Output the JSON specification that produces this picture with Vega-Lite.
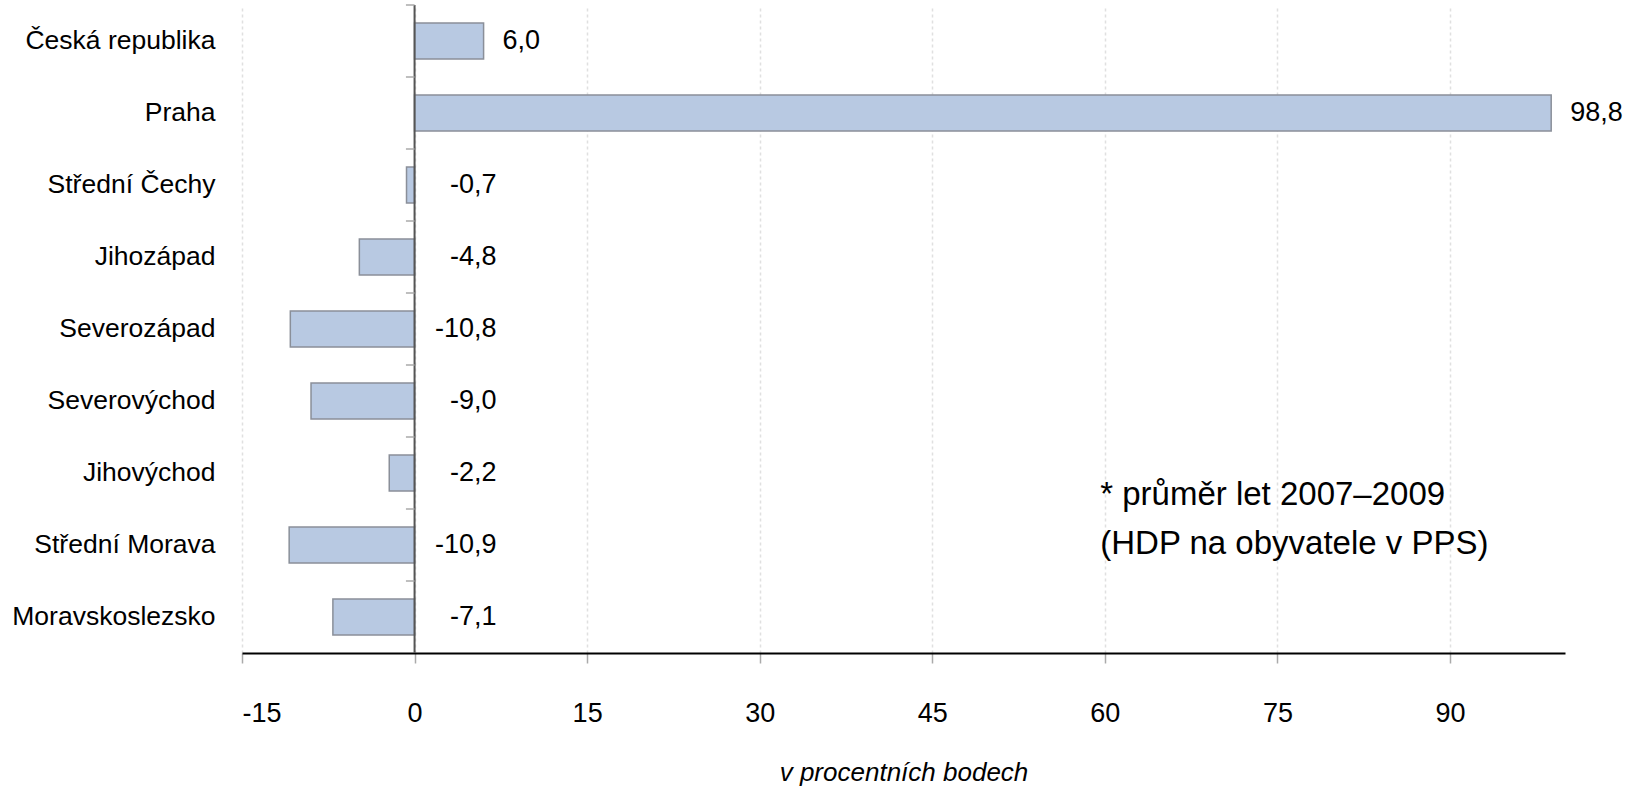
{
  "$schema": "https://vega.github.io/schema/vega-lite/v6.json",
  "width": 1323,
  "height": 648,
  "autosize": {"type": "none"},
  "padding": {"left": 242, "top": 5, "right": 74, "bottom": 139},
  "background": "white",
  "config": {
    "view": {"stroke": null},
    "font": "Liberation Sans",
    "text": {"font": "Liberation Sans"}
  },
  "datasets": {
    "regions": [
      {"region": "Česká republika", "value": 6.0, "label": "6,0"},
      {"region": "Praha", "value": 98.8, "label": "98,8"},
      {"region": "Střední Čechy", "value": -0.7, "label": "-0,7"},
      {"region": "Jihozápad", "value": -4.8, "label": "-4,8"},
      {"region": "Severozápad", "value": -10.8, "label": "-10,8"},
      {"region": "Severovýchod", "value": -9.0, "label": "-9,0"},
      {"region": "Jihovýchod", "value": -2.2, "label": "-2,2"},
      {"region": "Střední Morava", "value": -10.9, "label": "-10,9"},
      {"region": "Moravskoslezsko", "value": -7.1, "label": "-7,1"}
    ],
    "note": [{"note": "* průměr let 2007–2009"}]
  },
  "data": {"name": "regions"},
  "layer": [
    {
      "mark": {"type": "bar", "fill": "#b8c9e2", "stroke": "#8a8f99", "strokeWidth": 1.5},
      "encoding": {
        "y": {
          "field": "region",
          "type": "nominal",
          "sort": null,
          "scale": {"paddingInner": 0.5, "paddingOuter": 0.25},
          "axis": {
            "title": null,
            "domain": false,
            "ticks": false,
            "labelFontSize": 26.5,
            "labelColor": "#000",
            "labelFont": "Liberation Sans",
            "labelPadding": 27,
            "labelLimit": 400
          }
        },
        "x": {
          "field": "value",
          "type": "quantitative",
          "scale": {"domain": [-15, 100], "nice": false, "zero": false},
          "axis": {
            "values": [-15, 0, 15, 30, 45, 60, 75, 90],
            "labelExpr": "'' + datum.value",
            "title": "v procentních bodech",
            "titleFont": "Liberation Sans",
            "titleFontStyle": "italic",
            "titleFontWeight": "normal",
            "titleFontSize": 26,
            "titleColor": "#000",
            "titlePadding": 33,
            "labelFontSize": 27,
            "labelColor": "#000",
            "labelFont": "Liberation Sans",
            "labelPadding": 37,
            "domainColor": "#000",
            "domainWidth": 2,
            "tickColor": "#aaa",
            "tickWidth": 1.5,
            "tickSize": 10,
            "grid": true,
            "gridColor": "#e0e0e0",
            "gridDash": [3, 3],
            "gridWidth": 1.5
          }
        }
      }
    },
    {
      "data": {"name": "note"},
      "mark": {"type": "rule", "color": "#555", "strokeWidth": 2},
      "encoding": {"x": {"datum": 0}}
    },
    {
      "mark": {"type": "rule", "color": "#aaa", "strokeWidth": 1.5},
      "encoding": {
        "y": {"field": "region", "type": "nominal", "sort": null, "bandPosition": -0.5},
        "x": {"datum": -0.75},
        "x2": {"datum": 0}
      }
    },
    {
      "transform": [{"filter": "datum.value >= 0"}],
      "mark": {"type": "text", "align": "left", "baseline": "middle", "dx": 19, "fontSize": 27, "fontWeight": "normal", "color": "#000"},
      "encoding": {
        "y": {"field": "region", "type": "nominal", "sort": null},
        "x": {"field": "value", "type": "quantitative"},
        "text": {"field": "label"}
      }
    },
    {
      "transform": [{"filter": "datum.value < 0"}],
      "mark": {"type": "text", "align": "right", "baseline": "middle", "dx": 82, "fontSize": 27, "fontWeight": "normal", "color": "#000"},
      "encoding": {
        "y": {"field": "region", "type": "nominal", "sort": null},
        "x": {"datum": 0},
        "text": {"field": "label"}
      }
    },
    {
      "data": {"name": "note"},
      "mark": {
        "type": "text",
        "align": "left",
        "baseline": "alphabetic",
        "fontSize": 33,
        "fontWeight": "normal",
        "lineHeight": 49,
        "color": "#000",
        "text": ["* průměr let 2007–2009", "(HDP na obyvatele v PPS)"]
      },
      "encoding": {
        "x": {"datum": 59.6},
        "y": {"datum": "Jihovýchod", "bandPosition": 1.4}
      }
    }
  ]
}
